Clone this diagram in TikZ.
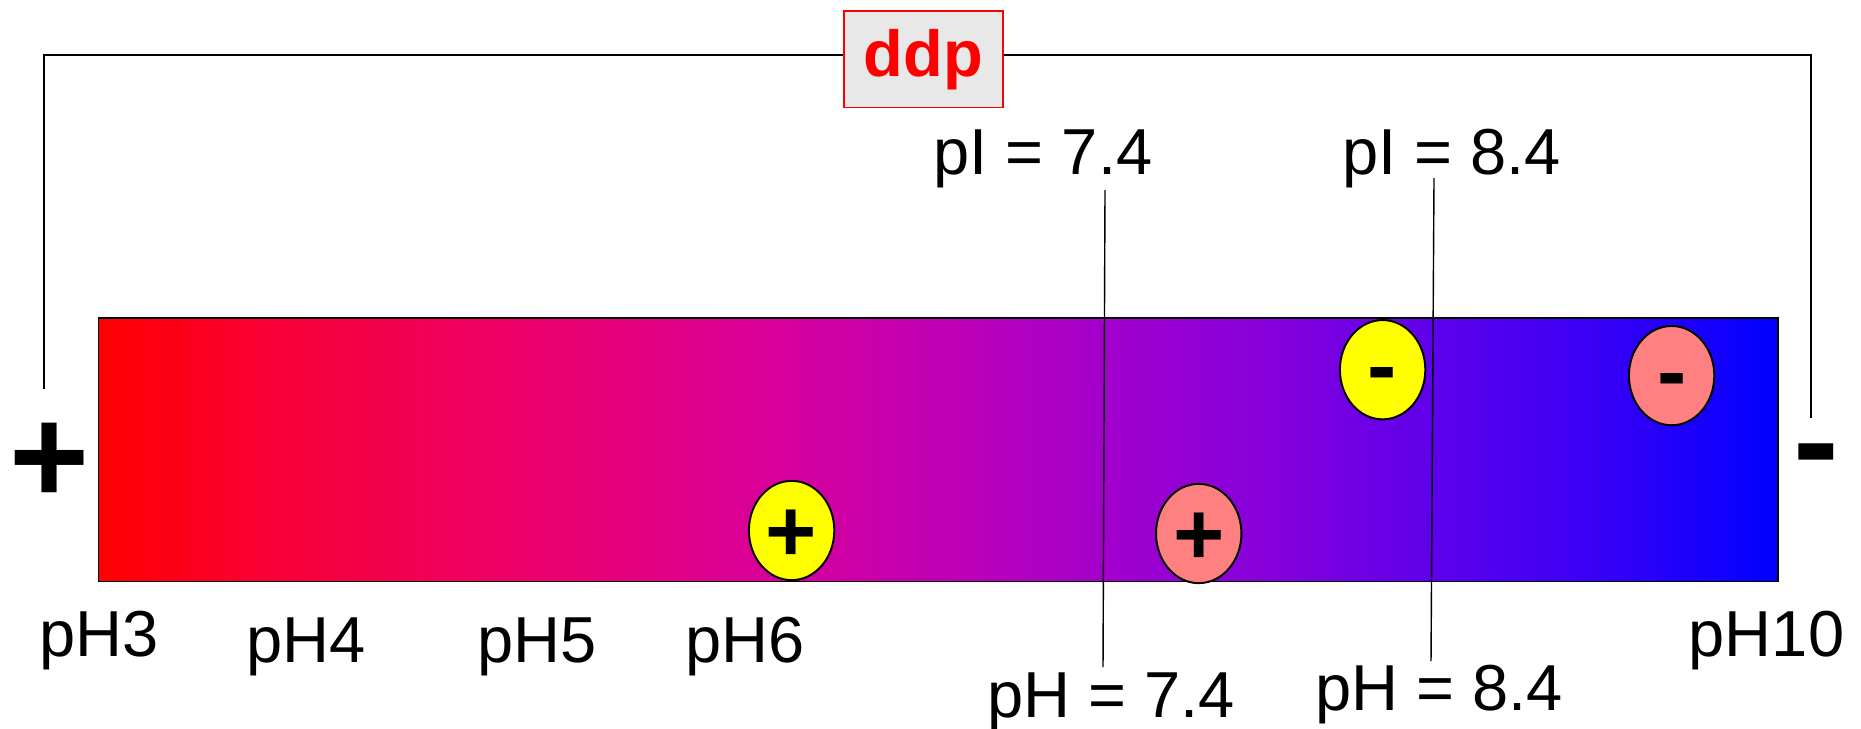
\documentclass[tikz,border=0pt]{standalone}
\usepackage{fontspec}
\setmainfont{Liberation Sans}
\usetikzlibrary{shapes.geometric}
\definecolor{IonY}{HTML}{FFFF00}
\definecolor{IonP}{HTML}{FF8080}
\definecolor{BoxG}{HTML}{E8E8E8}
\definecolor{DdpRed}{HTML}{FF0000}
\definecolor{g0}{HTML}{FF0000}
\definecolor{g1}{HTML}{F80035}
\definecolor{g2}{HTML}{EC0068}
\definecolor{g3}{HTML}{D8009A}
\definecolor{g4}{HTML}{C000B4}
\definecolor{g5}{HTML}{A200CC}
\definecolor{g6}{HTML}{8400DC}
\definecolor{g7}{HTML}{5C00EC}
\definecolor{g8}{HTML}{3400F6}
\definecolor{g9}{HTML}{0000FF}
\pgfdeclarehorizontalshading{phbar}{100bp}{color(0bp)=(g0); color(25bp)=(g0);
  color(30bp)=(g1); color(37.5bp)=(g2); color(45bp)=(g3); color(50bp)=(g4);
  color(55bp)=(g5); color(60bp)=(g6); color(65bp)=(g7); color(70bp)=(g8);
  color(75bp)=(g9); color(100bp)=(g9)}
\tikzset{
  lab/.style={font=\fontsize{37}{44}\selectfont,inner sep=0pt,anchor=base},
  ion/.style={ellipse,draw=black,line width=1.1pt,minimum width=48.6pt,minimum height=56.5pt,
    inner sep=0pt,font=\fontsize{50}{50}\bfseries\selectfont,text height=35pt,text depth=0pt},
  neg/.style={text height=29pt},
  pole/.style={inner sep=0pt,font=\fontsize{78}{78}\bfseries\selectfont,text height=54.6pt,text depth=0pt},
  negpole/.style={text height=45.8pt},
  wire/.style={draw=black,line width=1.1pt},
  guide/.style={draw=black,line width=0.8pt},
  ddpbox/.style={draw=DdpRed,line width=0.9pt,fill=BoxG,text=DdpRed,minimum width=90.5pt,minimum height=55pt,
    inner sep=0pt,font=\fontsize{37}{44}\bfseries\selectfont}
}
\begin{document}
\begin{tikzpicture}[x=0.02cm,y=-0.02cm]
  \useasboundingbox (0,0) rectangle (1861,728);
  \shade[shading=phbar,draw=black,line width=1.1pt] (98.5,318) rectangle (1778,581.5);
  \node[ddpbox] (ddp) at (923.5,59.3) {ddp};
  \node[pole] (anode) at (50,455.7) {+};
  \node[pole,negpole] (cathode) at (1816,447.4) {-};
  \coordinate (wireL) at (44,389);
  \coordinate (wireR) at (1811,418);
  \draw[wire] (wireL) |- ([yshift=2.7pt]ddp.west);
  \draw[wire] ([yshift=2.7pt]ddp.east) -| (wireR);
  \node[ion,fill=IonY] (ionA) at (791.6,530.5) {+};
  \node[ion,fill=IonP] (ionB) at (1198.7,533.5) {+};
  \node[ion,neg,fill=IonY] (ionC) at (1382.6,369.7) {-};
  \node[ion,neg,fill=IonP] (ionD) at (1671.6,375.6) {-};
  \node[lab] (ph3) at (99,656) {pH3};
  \node[lab] (ph4) at (306,662) {pH4};
  \node[lab] (ph5) at (537,662) {pH5};
  \node[lab] (ph6) at (745,662) {pH6};
  \node[lab] (ph10) at (1766.5,656) {pH10};
  \node[lab] (piA) at (1043,174.5) {pI = 7.4};
  \node[lab] (piB) at (1451.5,174.5) {pI = 8.4};
  \node[lab] (phA) at (1111,717) {pH = 7.4};
  \node[lab] (phB) at (1439,710) {pH = 8.4};
  \coordinate (piAend) at (1105,190);
  \coordinate (phAend) at (1103,667);
  \coordinate (piBend) at (1434,178);
  \coordinate (phBend) at (1431,661);
  \draw[guide] (piAend) -- (phAend);
  \draw[guide] (piBend) -- (phBend);
\end{tikzpicture}
\end{document}
